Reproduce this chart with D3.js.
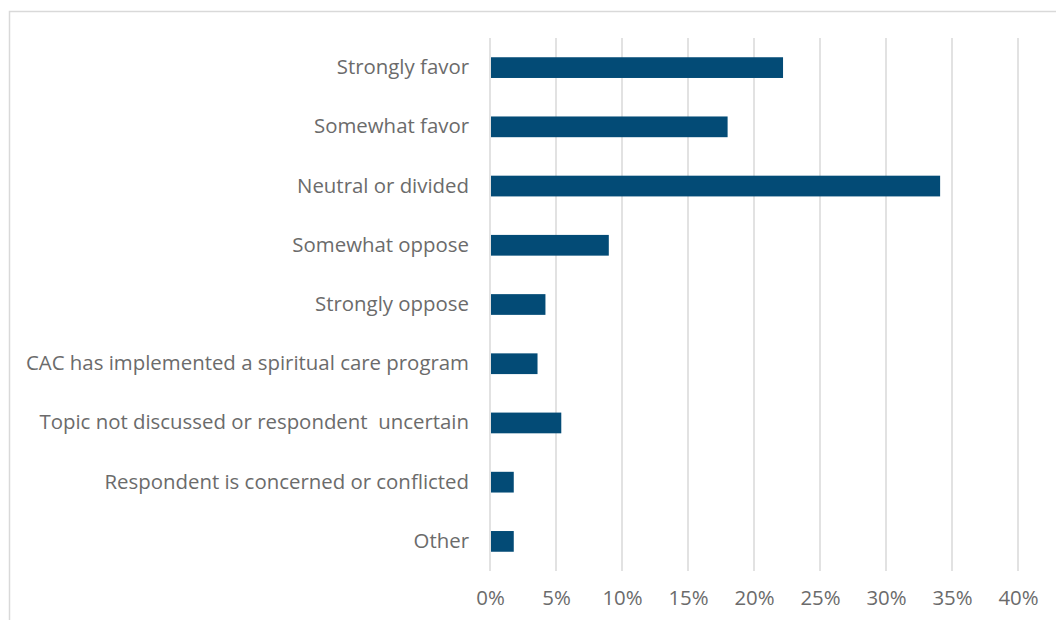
<!DOCTYPE html>
<html>
<head>
<meta charset="utf-8">
<script src="https://cdn.jsdelivr.net/npm/d3@7"></script>
<style>
  html, body { margin: 0; padding: 0; background: #fff; }
  svg { display: block; }
  text { font-family: "Open Sans", "Liberation Sans", sans-serif; fill: #6b6b6b; white-space: pre; }
</style>
</head>
<body>
<svg id="chart" width="1056" height="620"></svg>
<script>
const categories = [
  "Strongly favor",
  "Somewhat favor",
  "Neutral or divided",
  "Somewhat oppose",
  "Strongly oppose",
  "CAC has implemented a spiritual care program",
  "Topic not discussed or respondent  uncertain",
  "Respondent is concerned or conflicted",
  "Other"
];
const shares = [22.2, 18.0, 34.1, 9.0, 4.2, 3.6, 5.4, 1.8, 1.8];
const tickValues = [0, 5, 10, 15, 20, 25, 30, 35, 40];

const svg = d3.select("#chart");
const W = 1056, H = 620;
const plot = { left: 490, right: 1018, top: 38, bottom: 571 };
const fontSize = 20.4;

// chart-area outline (only top and left edges fall inside the frame)
svg.append("path")
  .attr("d", `M9.5,${H} V11.5 H${W}`)
  .attr("fill", "none")
  .attr("stroke", "#d9d9d9")
  .attr("stroke-width", 1.5);

const x = d3.scaleLinear().domain([0, 40]).range([plot.left, plot.right]);
const y = d3.scaleBand().domain(categories).range([plot.top, plot.bottom]).paddingInner(0.65).paddingOuter(0.325);

// vertical gridlines
svg.append("g").selectAll("line").data(tickValues).join("line")
  .attr("x1", d => x(d)).attr("x2", d => x(d))
  .attr("y1", plot.top).attr("y2", plot.bottom)
  .attr("stroke", "#d9d9d9").attr("stroke-width", 1.5);

// bars
svg.append("g").selectAll("rect").data(categories).join("rect")
  .attr("x", x(0) + 1)
  .attr("y", d => y(d))
  .attr("width", (d, i) => x(shares[i]) - x(0) - 1)
  .attr("height", y.bandwidth())
  .attr("fill", "#034b76");

// category axis
const yAxis = svg.append("g")
  .attr("transform", `translate(${plot.left},0)`)
  .call(d3.axisLeft(y).tickSize(0).tickPadding(21));
yAxis.select(".domain").remove();
yAxis.selectAll("text").attr("font-size", fontSize).attr("fill", "#6b6b6b")
  .style("font-family", '"Open Sans", "Liberation Sans", sans-serif');

// value axis
const xAxis = svg.append("g")
  .attr("transform", `translate(0,${plot.bottom})`)
  .call(d3.axisBottom(x).tickValues(tickValues).tickFormat(d => d + "%").tickSize(0).tickPadding(20));
xAxis.select(".domain").remove();
xAxis.selectAll("text").attr("font-size", fontSize).attr("fill", "#6b6b6b")
  .style("font-family", '"Open Sans", "Liberation Sans", sans-serif');
</script>
</body>
</html>
